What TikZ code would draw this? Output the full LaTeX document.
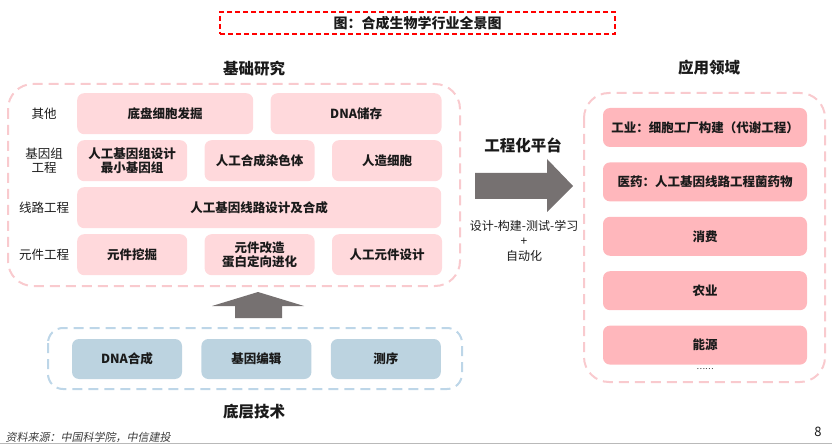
\documentclass[tikz,border=0pt]{standalone}
\usepackage{fontspec}
\setmainfont{Noto Sans CJK SC}
\newfontfamily\notefont[FakeSlant=0.2]{Noto Sans CJK SC}
\usepackage{xcolor}
\definecolor{Ink}{HTML}{1A1A1A}
\definecolor{RedLine}{HTML}{FF0000}
\definecolor{PinkLine}{HTML}{F9CACE}
\definecolor{PinkLight}{HTML}{FFD9DC}
\definecolor{PinkDeep}{HTML}{FFB7BC}
\definecolor{BlueLine}{HTML}{BDD6E8}
\definecolor{BlueFill}{HTML}{BCD3E0}
\definecolor{ArrowGrey}{HTML}{767171}
\usepackage{tikz}
\usetikzlibrary{positioning}

\begin{document}
\begin{tikzpicture}[x=1pt,y=-1pt,
  research/.style={fill=PinkLight,rounded corners=7pt,minimum width=110pt,minimum height=41pt,inner sep=1pt,align=center,font=\fontsize{12.5}{14}\selectfont\bfseries,text=Ink},
  apply/.style={fill=PinkDeep,rounded corners=7pt,minimum width=204pt,minimum height=39pt,font=\fontsize{12.5}{14}\selectfont\bfseries,text=Ink},
  tech/.style={fill=BlueFill,rounded corners=7pt,minimum width=110pt,minimum height=40pt,font=\fontsize{12.5}{14}\selectfont\bfseries,text=Ink},
  rowlabel/.style={align=center,font=\fontsize{12.5}{14}\selectfont,text=Ink},
  heading/.style={font=\fontsize{15.5}{18}\selectfont\bfseries,text=Ink},
  pinkframe/.style={draw=PinkLine,line width=2pt,dash pattern=on 10pt off 6pt,rounded corners=25pt},
  blueframe/.style={draw=BlueLine,line width=2pt,dash pattern=on 10pt off 6pt,rounded corners=15pt},
  blockarrow/.style={fill=ArrowGrey}
]
\useasboundingbox (0,0) rectangle (832,446);
\node[draw=RedLine,line width=1.5pt,dash pattern=on 5pt off 3pt,minimum width=395pt,minimum height=22pt,font=\fontsize{14}{16}\selectfont\bfseries,text=Ink] (title) at (417.5,23) {图：合成生物学行业全景图};

% 基础研究
\node[heading] (research) at (254,69) {基础研究};
\draw[pinkframe] (8,84) rectangle (460,286);
\node[research,minimum width=176pt,anchor=north west] (o1) at (77,93) {底盘细胞发掘};
\node[research,minimum width=171pt,right=17pt of o1] (o2) {DNA储存};
\node[research,anchor=north west] (g1) at (77,140) {人工基因组设计\\最小基因组};
\node[research,right=17pt of g1] (g2) {人工合成染色体};
\node[research,right=17pt of g2] (g3) {人造细胞};
\node[research,minimum width=364pt,anchor=north west] (c1) at (77,187) {人工基因线路设计及合成};
\node[research,anchor=north west] (p1) at (77,234) {元件挖掘};
\node[research,right=17pt of p1] (p2) {元件改造\\蛋白定向进化};
\node[research,right=17pt of p2] (p3) {人工元件设计};
\coordinate (lx) at (44,0);
\node[rowlabel] (l1) at (lx |- o1) {其他};
\node[rowlabel] (l2) at (lx |- g1) {基因组\\工程};
\node[rowlabel] (l3) at (lx |- c1) {线路工程};
\node[rowlabel] (l4) at (lx |- p1) {元件工程};

% 底层技术
\fill[blockarrow] (235,318) -- (235,306) -- (212,306) -- (258,292) -- (304,306) -- (282,306) -- (282,318) -- cycle;
\draw[blueframe] (48,328) rectangle (462,389);
\node[tech] (t1) at (127,359) {DNA合成};
\node[tech,right=19pt of t1] (t2) {基因编辑};
\node[tech,right=19pt of t2] (t3) {测序};
\node[heading] (base) at (254,412) {底层技术};

% 工程化平台
\node[heading] (platform) at (523,145) {工程化平台};
\fill[blockarrow] (475,173) -- (547,173) -- (547,159) -- (573,186) -- (547,212) -- (547,199) -- (475,199) -- cycle;
\node[align=center,font=\fontsize{12}{15}\selectfont,text=Ink] (loop) at (524,241) {设计-构建-测试-学习\\+\\自动化};

% 应用领域
\node[heading] (field) at (709,68) {应用领域};
\draw[pinkframe] (584,93) rectangle (825,382);
\node[apply] (a1) at (705,127.5) {工业：细胞工厂构建（代谢工程）};
\node[apply,below=15pt of a1] (a2) {医药：人工基因线路工程菌药物};
\node[apply,below=15pt of a2] (a3) {消费};
\node[apply,below=15pt of a3] (a4) {农业};
\node[apply,below=15pt of a4] (a5) {能源};
\node[font=\fontsize{8}{9}\selectfont,text=Ink] (more) at (705,369) {……};

% 来源
\node[anchor=west,font=\notefont\fontsize{11}{13}\selectfont,text=Ink!85] (source) at (2,437) {资料来源：中国科学院，中信建投};
\node[font=\fontsize{13}{15}\selectfont,text=Ink] (page) at (818,432) {8};
\draw[gray!55,line width=1pt] (0,443) -- (832,443);
\end{tikzpicture}
\end{document}
